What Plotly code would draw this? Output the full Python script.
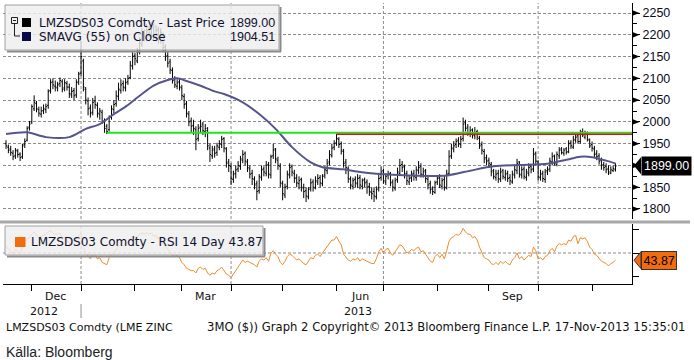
import pandas as pd
import plotly.graph_objects as go

# ---------------- data ----------------
FIRST_DAY = "2012-11-16"
LAST_DAY = "2013-11-15"

opens = [
    1950, 1942, 1938, 1928, 1922, 1933, 1926, 1920, 1948, 1958,
    1988, 2000, 2030, 2042, 2028, 2018, 2026, 2028, 2038, 2072,
    2092, 2082, 2078, 2088, 2092, 2078, 2088, 2080, 2062, 2072,
    2062, 2092, 2112, 2140, 2075, 2048, 2032, 2022, 2048, 2038,
    2018, 2022, 2002, 1990, 1982, 2012, 2028, 2042, 2058, 2072,
    2088, 2078, 2092, 2102, 2128, 2152, 2140, 2162, 2178, 2205,
    2192, 2212, 2200, 2218, 2195, 2212, 2188, 2200, 2172, 2152,
    2138, 2118, 2098, 2082, 2092, 2078, 2058, 2042, 2018, 2002,
    1992, 1982, 1962, 1988, 1995, 1978, 1980, 1940, 1922, 1938,
    1930, 1942, 1948, 1962, 1938, 1908, 1898, 1868, 1882, 1892,
    1898, 1912, 1928, 1908, 1892, 1882, 1868, 1858, 1842, 1872,
    1892, 1882, 1902, 1878, 1922, 1938, 1912, 1898, 1858, 1832,
    1852, 1878, 1898, 1882, 1872, 1858, 1868, 1848, 1842, 1828,
    1848, 1862, 1848, 1862, 1872, 1858, 1878, 1888, 1908, 1922,
    1942, 1952, 1960, 1950, 1932, 1908, 1892, 1868, 1852, 1868,
    1858, 1872, 1852, 1868, 1862, 1852, 1838, 1840, 1828, 1848,
    1872, 1888, 1862, 1878, 1882, 1862, 1848, 1868, 1882, 1902,
    1898, 1882, 1862, 1872, 1882, 1872, 1888, 1898, 1878, 1888,
    1868, 1858, 1848, 1838, 1862, 1872, 1852, 1868, 1848, 1882,
    1922, 1938, 1948, 1958, 1948, 1962, 1998, 1988, 1972, 1982,
    1968, 1978, 1962, 1948, 1932, 1918, 1912, 1902, 1888, 1872,
    1882, 1868, 1888, 1872, 1882, 1872, 1862, 1878, 1888, 1908,
    1878, 1892, 1872, 1882, 1898, 1892, 1928, 1908, 1872, 1882,
    1868, 1888, 1892, 1908, 1922, 1902, 1922, 1938, 1928, 1938,
    1932, 1952, 1942, 1958, 1968, 1955, 1978, 1965, 1975, 1958,
    1948, 1938, 1928, 1922, 1912, 1902, 1898, 1892, 1882, 1888,
    1890,
]
highs = [
    1958, 1948, 1945, 1935, 1940, 1938, 1930, 1950, 1962, 1990,
    2002, 2040, 2061, 2048, 2035, 2035, 2040, 2042, 2075, 2098,
    2100, 2095, 2092, 2102, 2098, 2098, 2094, 2088, 2080, 2078,
    2098, 2115, 2185, 2145, 2080, 2056, 2040, 2055, 2060, 2045,
    2032, 2028, 2008, 1995, 2015, 2038, 2050, 2072, 2090, 2098,
    2095, 2100, 2108, 2140, 2160, 2158, 2170, 2195, 2215, 2212,
    2225, 2220, 2230, 2225, 2222, 2218, 2215, 2205, 2178, 2160,
    2145, 2125, 2105, 2098, 2100, 2085, 2065, 2048, 2025, 2010,
    2005, 1990, 1995, 2005, 2000, 1995, 1988, 1950, 1945, 1945,
    1952, 1958, 1968, 1965, 1942, 1915, 1905, 1888, 1900, 1910,
    1922, 1935, 1932, 1915, 1900, 1890, 1875, 1865, 1880, 1900,
    1898, 1910, 1908, 1925, 1950, 1940, 1920, 1905, 1865, 1858,
    1888, 1905, 1902, 1890, 1880, 1875, 1872, 1858, 1850, 1850,
    1870, 1868, 1875, 1880, 1878, 1880, 1898, 1915, 1935, 1950,
    1958, 1973, 1965, 1955, 1938, 1915, 1898, 1875, 1872, 1875,
    1880, 1878, 1870, 1872, 1868, 1860, 1850, 1848, 1852, 1880,
    1898, 1892, 1882, 1888, 1885, 1868, 1872, 1895, 1915, 1910,
    1902, 1888, 1878, 1888, 1890, 1898, 1910, 1905, 1895, 1892,
    1875, 1865, 1852, 1865, 1878, 1880, 1872, 1878, 1890, 1935,
    1950, 1956, 1962, 1965, 1968, 2010, 2005, 1995, 1990, 1985,
    1988, 1982, 1968, 1955, 1938, 1925, 1918, 1908, 1892, 1890,
    1890, 1895, 1892, 1890, 1888, 1880, 1888, 1900, 1915, 1910,
    1898, 1898, 1892, 1905, 1902, 1940, 1932, 1912, 1890, 1888,
    1892, 1898, 1918, 1930, 1925, 1932, 1942, 1942, 1940, 1942,
    1958, 1958, 1968, 1972, 1970, 1982, 1985, 1980, 1978, 1962,
    1955, 1945, 1935, 1928, 1918, 1908, 1905, 1900, 1898, 1900,
    1905,
]
lows = [
    1938, 1928, 1922, 1912, 1915, 1918, 1910, 1915, 1940, 1955,
    1980, 1995, 2025, 2022, 2012, 2010, 2018, 2020, 2030, 2065,
    2075, 2070, 2070, 2080, 2068, 2070, 2072, 2055, 2055, 2050,
    2055, 2085, 2105, 2070, 2040, 2015, 2010, 2015, 2030, 2010,
    2005, 1995, 1975, 1972, 1978, 2005, 2020, 2035, 2050, 2065,
    2070, 2070, 2085, 2098, 2120, 2130, 2135, 2155, 2172, 2185,
    2185, 2195, 2192, 2190, 2190, 2180, 2180, 2160, 2140, 2125,
    2110, 2088, 2078, 2075, 2072, 2050, 2030, 2010, 1990, 1975,
    1970, 1935, 1955, 1975, 1970, 1965, 1935, 1908, 1915, 1918,
    1922, 1935, 1940, 1930, 1895, 1885, 1855, 1860, 1870, 1885,
    1890, 1905, 1900, 1885, 1870, 1855, 1845, 1820, 1835, 1865,
    1875, 1875, 1870, 1870, 1915, 1905, 1890, 1850, 1820, 1825,
    1845, 1870, 1875, 1860, 1850, 1845, 1840, 1825, 1816, 1822,
    1840, 1840, 1845, 1855, 1850, 1852, 1870, 1880, 1900, 1918,
    1935, 1945, 1940, 1925, 1895, 1880, 1860, 1845, 1845, 1850,
    1848, 1845, 1845, 1850, 1835, 1830, 1822, 1816, 1822, 1840,
    1865, 1858, 1855, 1868, 1852, 1840, 1842, 1860, 1878, 1885,
    1870, 1855, 1855, 1862, 1865, 1865, 1880, 1872, 1872, 1860,
    1845, 1835, 1832, 1835, 1855, 1848, 1845, 1842, 1845, 1875,
    1915, 1930, 1940, 1942, 1940, 1955, 1978, 1968, 1965, 1962,
    1960, 1958, 1938, 1925, 1905, 1900, 1895, 1875, 1868, 1865,
    1860, 1862, 1868, 1865, 1862, 1855, 1858, 1870, 1880, 1872,
    1870, 1868, 1865, 1875, 1882, 1885, 1900, 1865, 1865, 1862,
    1860, 1878, 1885, 1900, 1900, 1898, 1915, 1925, 1922, 1925,
    1928, 1938, 1938, 1952, 1950, 1950, 1965, 1960, 1955, 1940,
    1932, 1918, 1912, 1902, 1890, 1888, 1882, 1878, 1880, 1885,
    1886,
]
closes = [
    1945, 1935, 1930, 1920, 1935, 1925, 1918, 1945, 1955, 1985,
    1995, 2035, 2045, 2030, 2020, 2025, 2030, 2035, 2070, 2090,
    2085, 2080, 2085, 2095, 2075, 2090, 2080, 2065, 2070, 2060,
    2090, 2110, 2150, 2080, 2050, 2030, 2020, 2045, 2040, 2020,
    2025, 2000, 1985, 1978, 2010, 2030, 2040, 2060, 2075, 2085,
    2080, 2090, 2100, 2130, 2150, 2145, 2160, 2180, 2200, 2195,
    2210, 2205, 2215, 2200, 2210, 2190, 2205, 2170, 2150, 2135,
    2120, 2095, 2085, 2090, 2080, 2060, 2040, 2020, 2000, 1990,
    1985, 1960, 1985, 1990, 1980, 1985, 1945, 1925, 1935, 1928,
    1945, 1950, 1960, 1940, 1905, 1900, 1870, 1880, 1890, 1900,
    1915, 1925, 1910, 1895, 1880, 1870, 1855, 1840, 1875, 1890,
    1885, 1900, 1880, 1920, 1935, 1915, 1900, 1860, 1835, 1850,
    1880, 1895, 1885, 1870, 1860, 1865, 1850, 1840, 1830, 1845,
    1860, 1850, 1865, 1870, 1860, 1875, 1890, 1905, 1925, 1940,
    1950, 1962, 1948, 1935, 1905, 1895, 1870, 1855, 1865, 1860,
    1870, 1855, 1865, 1860, 1850, 1840, 1835, 1830, 1845, 1870,
    1885, 1865, 1875, 1880, 1860, 1850, 1865, 1885, 1900, 1895,
    1880, 1865, 1870, 1880, 1875, 1890, 1895, 1880, 1885, 1870,
    1855, 1845, 1840, 1860, 1870, 1855, 1865, 1850, 1880, 1920,
    1940, 1945, 1955, 1950, 1960, 1995, 1985, 1975, 1980, 1970,
    1975, 1965, 1945, 1935, 1915, 1910, 1905, 1885, 1875, 1880,
    1870, 1885, 1875, 1880, 1870, 1865, 1880, 1890, 1905, 1880,
    1890, 1875, 1885, 1895, 1890, 1925, 1910, 1875, 1880, 1870,
    1885, 1890, 1910, 1920, 1905, 1925, 1935, 1930, 1935, 1930,
    1950, 1945, 1960, 1965, 1955, 1975, 1970, 1972, 1960, 1945,
    1940, 1925, 1920, 1910, 1900, 1895, 1890, 1885, 1890, 1893,
    1899,
]
rsi14 = [
    56, 53, 52, 49, 53, 51, 49, 55, 57, 62,
    63, 66, 68, 65, 63, 64, 65, 66, 68, 69,
    67, 66, 66, 67, 62, 64, 61, 58, 59, 57,
    62, 64, 67, 55, 50, 47, 45, 49, 48, 45,
    46, 42, 41, 40, 46, 49, 50, 53, 56, 57,
    56, 58, 59, 62, 64, 63, 64, 66, 67, 66,
    67, 66, 67, 64, 65, 62, 64, 58, 55, 53,
    51, 48, 47, 48, 46, 42, 40, 37, 36, 35,
    35, 33, 37, 38, 36, 37, 33, 31, 33, 32,
    35, 36, 38, 35, 32, 31, 29, 32, 35, 38,
    41, 44, 42, 43, 42, 41, 40, 38, 43, 45,
    44, 46, 43, 50, 52, 49, 47, 42, 40, 43,
    47, 49, 48, 46, 44, 45, 43, 41, 40, 43,
    46, 45, 48, 49, 47, 50, 53, 56, 59, 61,
    61, 64, 60, 57, 49, 46, 44, 43, 45, 44,
    46, 43, 45, 44, 43, 42, 41, 41, 45, 51,
    54, 50, 53, 54, 50, 48, 51, 54, 57, 56,
    53, 50, 51, 53, 52, 54, 55, 51, 52, 49,
    45, 43, 42, 47, 49, 46, 49, 45, 52, 60,
    63, 64, 66, 65, 67, 71, 68, 66, 66, 63,
    64, 61, 55, 51, 46, 45, 44, 41, 40, 42,
    40, 43, 41, 43, 41, 40, 44, 46, 50, 45,
    47, 44, 46, 48, 47, 55, 52, 45, 46, 44,
    47, 48, 52, 54, 51, 56, 58, 57, 58, 57,
    61, 60, 64, 65, 58, 63, 62, 63, 60, 55,
    53, 49, 48, 45, 43, 42, 41, 39, 41, 42,
    43.87,
]
sma_dates = [
    "2012-11-16", "2012-11-29", "2012-12-11", "2012-12-25", "2013-01-03",
    "2013-01-11", "2013-01-21", "2013-01-28", "2013-02-05", "2013-02-13",
    "2013-02-21", "2013-02-27", "2013-03-05", "2013-03-13", "2013-03-21",
    "2013-03-27", "2013-04-08", "2013-04-17", "2013-04-26", "2013-05-07",
    "2013-05-17", "2013-05-24", "2013-06-06", "2013-06-17", "2013-06-26",
    "2013-07-16", "2013-08-07", "2013-08-21", "2013-09-04", "2013-09-19",
    "2013-10-07", "2013-10-17", "2013-10-25", "2013-11-01", "2013-11-11",
    "2013-11-15",
]
sma55 = [
    1972, 1976, 1965, 1965, 1984,
    1995, 2018, 2035, 2060, 2083,
    2096, 2100, 2094, 2083, 2070,
    2064, 2045, 2018, 1984, 1942,
    1907, 1896, 1891, 1885, 1881,
    1877, 1877, 1888, 1898, 1901,
    1904, 1913, 1920, 1919, 1911,
    1904.51,
]
support_level, support_from = 1975, "2013-01-16"
resist_level, resist_from = 1971.5, "2013-06-03"
price_ticks = [1800, 1850, 1900, 1950, 2000, 2050, 2100, 2150, 2200, 2250]
# the 1900 label is hidden behind the last-price tag in the reference
price_tick_text = ["1800", "1850", "", "1950", "2000", "2050", "2100", "2150", "2200", "2250"]
rsi_ticks = [30, 50, 70]
label_months = [(2012, 12, "Dec"), (2013, 3, "Mar"), (2013, 6, "Jun"), (2013, 9, "Sep")]
ticker = "LMZSDS03 Comdty"
footer_left = "LMZSDS03 Comdty (LME ZINC"
footer_right = "3MO ($)) Graph 2 Copyright\u00a9 2013 Bloomberg Finance L.P. 17-Nov-2013 15:35:01"
source_text = "K\u00e4lla: Bloomberg"

# ---------------- layout helpers ----------------
W, H = 694, 360
ML, MR, MT, MB = 3, 62, 3, 76
PW, PH = W - ML - MR, H - MT - MB
X_RANGE = ["2012-11-14 17:00", "2013-11-26 01:00"]


def px_x(p):
    return (p - ML) / PW


def px_y(p):
    return (H - MB - p) / PH


days = pd.bdate_range(FIRST_DAY, LAST_DAY)
assert len(days) == len(closes) == len(opens) == len(highs) == len(lows) == len(rsi14)

FONT_TXT = "DejaVu Sans"
FONT_NUM = "Liberation Sans"
TXT_COL = "#101030"
GRID = "#8c8c8c"

fig = go.Figure()
fig.add_trace(go.Ohlc(
    x=days, open=opens, high=highs, low=lows, close=closes,
    increasing=dict(line=dict(color="black", width=1)),
    decreasing=dict(line=dict(color="black", width=1)),
    tickwidth=0.5, xaxis="x", yaxis="y", showlegend=False, hoverinfo="skip",
))
fig.add_trace(go.Scatter(
    x=pd.to_datetime(sma_dates), y=sma55, mode="lines",
    line=dict(color="#55558c", width=2, shape="spline", smoothing=0.8),
    xaxis="x", yaxis="y", showlegend=False, hoverinfo="skip",
))
fig.add_trace(go.Scatter(
    x=days, y=rsi14, mode="lines", line=dict(color="#f28a2a", width=1),
    xaxis="x2", yaxis="y2", showlegend=False, hoverinfo="skip",
))

# month boundaries = first trading day of each month
ser = pd.Series(days, index=days)
month_first = ser.groupby([days.year, days.month]).first().tolist()[1:]
quarter_first = [d for d in month_first if d.month in (1, 4, 7, 10)]

shapes = []
for d in quarter_first:
    for yr in ("y domain", "y2 domain"):
        shapes.append(dict(type="line", xref="x", yref=yr, x0=d, x1=d, y0=0, y1=1,
                           line=dict(color=GRID, width=1, dash="3px,2px"), layer="below"))
shapes.append(dict(type="line", xref="x2 domain", yref="y2", x0=0, x1=1, y0=50, y1=50,
                   line=dict(color=GRID, width=1, dash="3px,2px"), layer="below"))
# support / resistance lines
shapes.append(dict(type="line", xref="x", yref="y", x0=support_from, x1=X_RANGE[1],
                   y0=support_level, y1=support_level, line=dict(color="#1ee61e", width=2)))
shapes.append(dict(type="line", xref="x", yref="y", x0=resist_from, x1=X_RANGE[1],
                   y0=resist_level, y1=resist_level, line=dict(color="#e01010", width=1.5)))
# panel separator
shapes.append(dict(type="line", xref="paper", yref="paper", x0=px_x(0), x1=px_x(690),
                   y0=px_y(222), y1=px_y(222), line=dict(color="#a8a8a8", width=3)))
# arrow markers at price ticks
k = 196 / 450.0
for v in price_ticks:
    h = 2.6 / k
    shapes.append(dict(type="path", xref="paper", yref="y",
                       path=f"M {px_x(633)},{v + h} L {px_x(639.5)},{v} L {px_x(633)},{v - h} Z",
                       fillcolor="black", line=dict(width=0)))
# last price notch
hp = 8.5 / k
shapes.append(dict(type="path", xref="paper", yref="y",
                   path=f"M {px_x(634)},{closes[-1]} L {px_x(641)},{closes[-1] + hp} L {px_x(641)},{closes[-1] - hp} Z",
                   fillcolor="black", line=dict(width=0)))
kr = 1.175
hr = 8.5 / kr
shapes.append(dict(type="path", xref="paper", yref="y2",
                   path=f"M {px_x(634)},{rsi14[-1]} L {px_x(641)},{rsi14[-1] + hr} L {px_x(641)},{rsi14[-1] - hr} Z",
                   fillcolor="#f26b0f", line=dict(width=1, color="#333333")))


def rect(x0, y0, x1, y1, fill, line_col=None, lw=0):
    return dict(type="rect", xref="paper", yref="paper", x0=px_x(x0), x1=px_x(x1),
                y0=px_y(y1), y1=px_y(y0), fillcolor=fill,
                line=dict(color=line_col or fill, width=lw), layer="above")


def seg(x0, y0, x1, y1, col, w=1):
    return dict(type="line", xref="paper", yref="paper", x0=px_x(x0), x1=px_x(x1),
                y0=px_y(y0), y1=px_y(y1), line=dict(color=col, width=w), layer="above")


# legend box (price)
shapes.append(seg(7, 51.5, 281, 51.5, "#8a8a8a", 2))
shapes.append(seg(280.5, 7, 280.5, 51.5, "#8a8a8a", 2))
shapes.append(rect(5, 5, 279, 50, "rgba(238,238,238,0.82)", "#a0a0a0", 1))
shapes.append(rect(11.5, 17.5, 17.5, 23.5, "rgba(0,0,0,0)", "#202020", 1))
shapes.append(seg(13, 20.5, 16, 20.5, "#202020", 1))
shapes.append(seg(14.5, 23.5, 14.5, 36, "#202020", 1))
shapes.append(seg(14.5, 36, 20, 36, "#202020", 1))
shapes.append(rect(22, 18, 31, 27, "black"))
shapes.append(rect(22, 32, 31, 41, "#0a0a48"))
# legend box (RSI)
shapes.append(seg(7, 256.5, 265, 256.5, "#8a8a8a", 2))
shapes.append(seg(264.5, 228, 264.5, 256.5, "#8a8a8a", 2))
shapes.append(rect(5, 226, 263, 255, "rgba(238,238,238,0.82)", "#a0a0a0", 1))
shapes.append(rect(15, 237, 25.5, 247, "#f26b0f"))

annotations = []


def note(text, x, y, size=12, family=FONT_TXT, color=TXT_COL, xanchor="left", **kw):
    d = dict(text=text, x=x, y=y, xref="paper", yref="paper", showarrow=False,
             xanchor=xanchor, yanchor="middle", font=dict(family=family, size=size, color=color))
    d.update(kw)
    annotations.append(d)


note(f"{ticker} - Last Price", px_x(37), px_y(22.5))
note(f"{closes[-1]:.2f}", px_x(228), px_y(22.5), family=FONT_NUM, size=12.5)
note("SMAVG (55) on Close", px_x(37), px_y(36.5))
note(f"{sma55[-1]:.2f}", px_x(228), px_y(36.5), family=FONT_NUM, size=12.5)
note(f"{ticker} - RSI 14 Day {rsi14[-1]:.2f}", px_x(29), px_y(242))

# value boxes on the right axis
annotations.append(dict(text=f"{closes[-1]:.2f}", x=px_x(641), y=closes[-1], xref="paper", yref="y",
                        showarrow=False, xanchor="left", yanchor="middle", bgcolor="black",
                        borderpad=2, font=dict(family=FONT_NUM, size=12.5, color="white")))
annotations.append(dict(text=f"{rsi14[-1]:.2f}", x=px_x(641), y=rsi14[-1], xref="paper", yref="y2",
                        showarrow=False, xanchor="left", yanchor="middle", bgcolor="#f26b0f",
                        bordercolor="#333333", borderwidth=1, borderpad=1.5,
                        font=dict(family=FONT_NUM, size=12.5, color="black")))

# month / year labels below the axis
for yy, mm, lab in label_months:
    md = [d for d in days if d.year == yy and d.month == mm]
    annotations.append(dict(text=lab, x=md[len(md) // 2], y=0, xref="x2", yref="paper", yshift=-12,
                            showarrow=False, xanchor="center", yanchor="middle",
                            font=dict(family=FONT_TXT, size=11, color="#101010")))
d2012 = [d for d in days if d.year == 2012]
vis2013 = pd.bdate_range("2013-01-01", X_RANGE[1][:10])
annotations.append(dict(text="2012", x=d2012[len(d2012) // 2], y=0, xref="x2", yref="paper", yshift=-27,
                        showarrow=False, xanchor="center", yanchor="middle",
                        font=dict(family=FONT_TXT, size=11, color="#101010")))
annotations.append(dict(text="2013", x=vis2013[len(vis2013) // 2], y=0, xref="x2", yref="paper", yshift=-27,
                        showarrow=False, xanchor="center", yanchor="middle",
                        font=dict(family=FONT_TXT, size=11, color="#101010")))
shapes.append(dict(type="line", xref="x", yref="paper", x0=quarter_first[0], x1=quarter_first[0],
                   y0=px_y(304), y1=px_y(318), line=dict(color="#909090", width=1)))

note(footer_left, px_x(4), px_y(327), size=11, color="#101010")
note(footer_right, px_x(687), px_y(327), size=11.6, color="#101010", xanchor="right")
note(source_text, px_x(4), px_y(352), size=14, family=FONT_NUM, color="#222222")

fig.update_layout(
    width=W, height=H, margin=dict(l=ML, r=MR, t=MT, b=MB),
    paper_bgcolor="white", plot_bgcolor="white", showlegend=False,
    xaxis=dict(domain=[0, 1], anchor="y", type="date", range=X_RANGE,
               rangebreaks=[dict(bounds=["sat", "mon"])], showticklabels=False,
               showgrid=False, zeroline=False, showline=False, ticks="",
               rangeslider=dict(visible=False)),
    xaxis2=dict(domain=[0, 1], anchor="y2", type="date", range=X_RANGE, matches="x",
                rangebreaks=[dict(bounds=["sat", "mon"])], showticklabels=False,
                showgrid=False, zeroline=False, showline=True, linecolor="black", linewidth=1,
                tickmode="array", tickvals=month_first, ticks="outside", ticklen=6,
                tickcolor="black", tickwidth=1),
    yaxis=dict(domain=[px_y(219), 1], anchor="x", side="right", range=[1777.0, 2273.0],
               tickmode="array", tickvals=price_ticks, ticktext=price_tick_text,
               ticks="outside", ticklen=7, tickcolor="black",
               showline=True, linecolor="black", linewidth=1, zeroline=False,
               showgrid=True, gridcolor=GRID, gridwidth=1, griddash="3px,2px",
               tickfont=dict(family=FONT_NUM, size=12.5, color="#0a0a20"),
               minor=dict(dtick=25, tick0=1775, ticks="outside", ticklen=4, tickcolor="black", showgrid=False)),
    yaxis2=dict(domain=[0, px_y(224)], anchor="x2", side="right", range=[23.6, 74.7],
                tickmode="array", tickvals=rsi_ticks, ticks="outside", ticklen=6, tickcolor="black",
                showticklabels=False, showline=True, linecolor="black", linewidth=1,
                zeroline=False, showgrid=False),
    shapes=shapes, annotations=annotations,
)

fig.write_html("out.html", config={"displayModeBar": False},
               post_script="document.body.style.margin='0px';document.body.style.overflow='hidden';")
